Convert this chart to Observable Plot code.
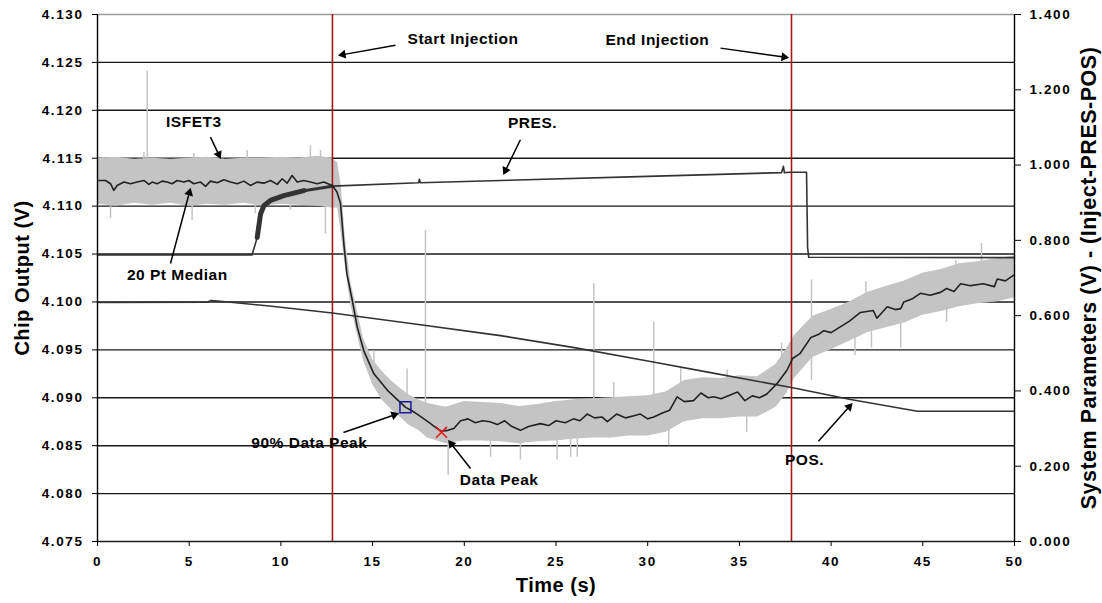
<!DOCTYPE html>
<html><head><meta charset="utf-8">
<script src="https://cdn.jsdelivr.net/npm/d3@7"></script>
<script src="https://cdn.jsdelivr.net/npm/@observablehq/plot@0.6"></script>
<style>html,body{margin:0;padding:0;background:#fff;}</style>
</head><body><div id="chart"></div>
<script>
// ---- axes / ticks ----
const xTicks = [0,5,10,15,20,25,30,35,40,45,50];
const leftTicks = [4.075,4.080,4.085,4.090,4.095,4.100,4.105,4.110,4.115,4.120,4.125,4.130];
const rightTicks = [0,0.2,0.4,0.6,0.8,1.0,1.2,1.4];
const injectT = [12.81, 37.84];

// ---- ISFET3 20 Pt Median (V, left axis) ----
const medianT = [0.07,0.44,0.71,0.89,1.07,1.44,1.80,2.16,2.53,2.80,2.98,3.25,3.53,3.80,4.07,4.34,4.71,4.98,5.25,5.62,5.89,6.16,6.53,6.89,7.25,7.62,7.98,8.34,8.71,9.07,9.43,9.80,10.07,10.34,10.61,10.89,11.25,11.61,11.98,12.34,12.80,
 13.05,13.25,13.43,13.60,13.89,14.16,14.52,15.07,15.80,16.52,16.80,17.10,17.43,17.80,18.16,18.50,18.76,19.10,19.43,19.80,20.2,20.6,21.0,21.4,21.8,22.2,22.6,23.06,23.5,24.15,24.6,25.0,25.5,25.95,26.3,26.7,27.1,27.5,27.8,28.3,28.8,29.2,29.6,30.0,30.33,30.8,31.2,31.6,32.0,32.5,32.9,33.3,33.6,34.0,34.5,34.9,35.3,35.7,36.1,36.5,37.06,37.6,37.9,38.3,38.9,39.3,39.6,40.0,40.5,41.0,41.6,42.3,42.5,43.06,43.5,43.8,43.96,44.4,44.87,45.4,45.96,46.3,46.7,47.06,47.6,48.3,48.9,49.06,49.5,49.96];
const medianV = [4.11268,4.11268,4.11234,4.11164,4.11216,4.11251,4.11234,4.11251,4.11268,4.11227,4.11251,4.11234,4.11261,4.11251,4.11234,4.11268,4.11251,4.11268,4.11234,4.11251,4.11206,4.11261,4.11244,4.11275,4.11251,4.11234,4.11261,4.11216,4.11251,4.1124,4.11268,4.11227,4.11286,4.1124,4.1132,4.11251,4.11268,4.11251,4.11234,4.11251,4.11216,
 4.1115,4.1103,4.1061,4.1029,4.1002,4.0974,4.0949,4.0925,4.0908,4.0895,4.0890,4.0887,4.0883,4.0878,4.0873,4.0868,4.0865,4.0866,4.0868,4.0876,4.0878,4.0874,4.0876,4.0875,4.0872,4.0876,4.0870,4.0866,4.0870,4.0873,4.0871,4.0876,4.0874,4.0878,4.0876,4.0883,4.0879,4.0880,4.0875,4.0883,4.0879,4.0881,4.0883,4.0878,4.0880,4.0884,4.0887,4.0901,4.0896,4.0897,4.0905,4.0900,4.0901,4.0899,4.0903,4.0906,4.0897,4.0902,4.0900,4.0904,4.0915,4.0929,4.0941,4.0946,4.0963,4.0966,4.0970,4.0968,4.0974,4.0980,4.0989,4.0991,4.0983,4.0995,4.0992,4.0993,4.1000,4.1003,4.1009,4.1007,4.1010,4.1014,4.1011,4.1019,4.1017,4.1019,4.1016,4.1024,4.1022,4.1028];

// ---- ISFET3 raw signal: dense band (low / high envelope, V) ----
const rawT  = [0,1,2,3,4,5,6,7,8,9,10,11,12,12.8,13.1,13.3,13.5,13.8,14.0,14.5,15.0,15.5,16.0,16.5,17.0,17.5,18.0,19.0,20.0,21.0,22.0,23.0,24.0,25.0,26.0,27.0,28.0,29.0,30.0,31.0,32.0,33.0,34.0,35.0,36.0,37.0,37.6,38.0,39.0,40.0,41.0,42.0,43.0,44.0,45.0,46.0,47.0,48.0,49.0,50.0];
const rawLo = [4.1102,4.1100,4.1103,4.1101,4.1103,4.1100,4.1102,4.1101,4.1103,4.1100,4.1102,4.1101,4.1100,4.1098,4.1098,4.1070,4.1040,4.0998,4.0980,4.0939,4.0914,4.0898,4.0888,4.0880,4.0871,4.0866,4.0858,4.0852,4.0855,4.0855,4.0854,4.0852,4.0854,4.0855,4.0857,4.0858,4.0858,4.0860,4.0860,4.0864,4.0875,4.0878,4.0878,4.0880,4.0880,4.0890,4.0905,4.0920,4.0942,4.0950,4.0959,4.0968,4.0973,4.0978,4.0986,4.0990,4.0995,4.0998,4.1000,4.1004];
const rawHi = [4.1150,4.1151,4.1149,4.1150,4.1149,4.1150,4.1151,4.1149,4.1150,4.1150,4.1151,4.1150,4.1152,4.1150,4.1145,4.1120,4.1070,4.1022,4.1005,4.0962,4.0940,4.0928,4.0918,4.0910,4.0903,4.0898,4.0894,4.0890,4.0896,4.0895,4.0894,4.0891,4.0893,4.0896,4.0898,4.0899,4.0900,4.0901,4.0902,4.0906,4.0918,4.0921,4.0920,4.0923,4.0922,4.0935,4.0952,4.0965,4.0985,4.0992,4.1000,4.1010,4.1016,4.1022,4.1030,4.1034,4.1040,4.1042,4.1045,4.1048];
// isolated spikes of the raw signal (time, from, to)
const spikeT    = [0.71,2.53,2.71,5.16,5.25,8.16,8.61,10.52,11.61,12.16,12.43,15.07,16.88,17.88,19.12,21.43,23.06,25.06,25.8,26.16,27.06,28.15,30.33,31.15,31.8,34.33,35.4,37.3,38.93,41.3,41.9,42.2,43.8,46.3,46.8,48.2];
const spikeFrom = [4.1100,4.1148,4.1140,4.1102,4.1148,4.1148,4.1102,4.1102,4.1148,4.1148,4.1102,4.0930,4.0900,4.0880,4.0860,4.0860,4.0860,4.0860,4.0860,4.0860,4.0870,4.0890,4.0880,4.0870,4.0900,4.0910,4.0890,4.0920,4.0918,4.0965,4.0990,4.0975,4.0985,4.0995,4.1030,4.1035];
const spikeTo   = [4.1087,4.1156,4.1241,4.1085,4.1155,4.1158,4.1092,4.1096,4.1163,4.1158,4.1071,4.0949,4.0930,4.10746,4.0819,4.0838,4.0835,4.0835,4.0838,4.0838,4.1019,4.0916,4.0979,4.0850,4.0932,4.0929,4.0864,4.0957,4.1023,4.0944,4.1021,4.0952,4.0952,4.0979,4.1043,4.1061];

// ---- PRES. (V, right axis) ----
const presT = [0,8.43,8.71,8.89,9.07,9.43,10.16,11.25,12.8,17.5,17.55,17.6,21.97,30.0,37.3,37.4,37.45,37.8,38.66,38.72,38.78,50];
const presV = [0.7615,0.7615,0.808,0.870,0.892,0.906,0.919,0.932,0.944,0.953,0.962,0.953,0.959,0.970,0.980,0.997,0.980,0.981,0.981,0.780,0.755,0.754];
// ---- POS. (V, right axis) ----
const posT = [0,6.0,6.2,7.0,9.5,12.8,17.0,21.97,26.0,30.15,33.5,37.84,41.06,44.71,50];
const posV = [0.635,0.636,0.640,0.637,0.625,0.607,0.580,0.547,0.515,0.478,0.448,0.409,0.377,0.346,0.346];

// ---- markers ----
const peak90T = [16.79], peak90V = [4.0890];
const peakT = [18.76],  peakV = [4.0864];

// ---- annotations ----
const annotText = ["Start Injection","End Injection","PRES.","ISFET3","20 Pt Median","90% Data Peak","Data Peak","POS."];
const annotT = [19.93,30.53,23.72,5.25,4.35,11.55,21.9,38.55];
const annotV = [4.12747,4.12737,4.11871,4.11877,4.10284,4.08526,4.08137,4.08353];
const arrowT1 = [16.25,33.97,23.06,6.16,3.98,13.41,20.34,39.31];
const arrowV1 = [4.12678,4.12649,4.11693,4.11720,4.10402,4.08638,4.08262,4.08547];
const arrowT2 = [13.14,37.68,22.14,6.71,5.07,16.41,19.14,41.15];
const arrowV2 = [4.12573,4.12549,4.11331,4.11498,4.11185,4.08836,4.08554,4.08941];

// ---- build ----
const W = 1102, H = 603, ML = 97, MR = 88, MT = 14, MB = 62;
const L0 = 4.075, L1 = 4.130, R1 = 1.4;
const toLeft = r => L0 + r / R1 * (L1 - L0);
const fromLeft = v => (v - L0) / (L1 - L0) * R1;
const kx = (W - ML - MR) / 50, ky = (H - MT - MB) / (L1 - L0); // px per unit, for arrowhead direction

const medianData = medianT.map((t,i)=>({t, v: medianV[i]}));
const rawData = rawT.map((t,i)=>({t, lo: rawLo[i], hi: rawHi[i]}));
const spikeData = spikeT.map((t,i)=>({t, a: spikeFrom[i], b: spikeTo[i]}));
const presData = presT.map((t,i)=>({t, v: toLeft(presV[i])}));
const presThick = presData.filter(d => d.t >= 8.6 && d.t <= 12.0);
const presMid = presData.filter(d => d.t >= 11.2 && d.t <= 12.8);
const posData = posT.map((t,i)=>({t, v: toLeft(posV[i])}));
const annotData = annotText.map((s,i)=>({s, t: annotT[i], v: annotV[i]}));
const arrowData = arrowT1.map((t,i)=>{
  const x1 = t, y1 = arrowV1[i], x2 = arrowT2[i], y2 = arrowV2[i];
  const dxp = (x2 - x1) * kx, dyp = -(y2 - y1) * ky;
  const len = Math.hypot(dxp, dyp);
  const back = 4.5; // centroid of head behind tip (px)
  return {x1, y1, x2, y2,
    hx: x2 - dxp / len * back / kx,
    hy: y2 + dyp / len * back / ky,
    ang: Math.atan2(dxp, -dyp) * 180 / Math.PI};
});

const FONT = "'Liberation Sans', Arial, Helvetica, sans-serif";
const chart = Plot.plot({
  width: W, height: H,
  marginLeft: ML, marginRight: MR, marginTop: MT, marginBottom: MB,
  style: {fontFamily: FONT, background: "#fff", color: "#000"},
  x: {domain: [0, 50]},
  y: {domain: [L0, L1]},
  marks: [
    Plot.ruleY(leftTicks.filter(v => v < L1 - 1e-9), {stroke: "#1a1a1a", strokeWidth: 1.4}),
    Plot.ruleY([L1], {stroke: "#9a9a9a", strokeWidth: 1.4}),
    Plot.areaY(rawData, {x: "t", y1: "lo", y2: "hi", fill: "#c4c4c4"}),
    Plot.ruleX(spikeData, {x: "t", y1: "a", y2: "b", stroke: "#c4c4c4", strokeWidth: 1.5}),
    Plot.ruleX(injectT, {stroke: "#a31a1a", strokeWidth: 1.6}),
    Plot.line(posData, {x: "t", y: "v", stroke: "#333", strokeWidth: 1.6}),
    Plot.line(presData, {x: "t", y: "v", stroke: "#333", strokeWidth: 1.6}),
    Plot.line(presThick, {x: "t", y: "v", stroke: "#333", strokeWidth: 5}),
    Plot.line(presMid, {x: "t", y: "v", stroke: "#333", strokeWidth: 3}),
    Plot.line(medianData, {x: "t", y: "v", stroke: "#222", strokeWidth: 1.6}),
    Plot.dot(peak90T.map((t,i)=>({t, v: peak90V[i]})), {x: "t", y: "v", symbol: "square", r: 6.2, stroke: "#1a1a9c", strokeWidth: 1.5}),
    Plot.dot(peakT.map((t,i)=>({t, v: peakV[i]})), {x: "t", y: "v", symbol: "times", r: 5, stroke: "#e8161b", strokeWidth: 1.6}),
    Plot.ruleX([0], {stroke: "#000", strokeWidth: 1.4}),
    Plot.ruleX([50], {stroke: "#000", strokeWidth: 1.4}),
    Plot.link(arrowData, {x1: "x1", y1: "y1", x2: "hx", y2: "hy", stroke: "#000", strokeWidth: 1.5}),
    Plot.dot(arrowData, {x: "hx", y: "hy", symbol: "triangle", r: 3.3, rotate: "ang", fill: "#000", stroke: "none"}),
    Plot.text(annotData, {x: "t", y: "v", text: "s", fontSize: 15.5, fontWeight: "bold", fill: "#000"}),
    Plot.axisX({ticks: xTicks, tickSize: 5, tickPadding: 10, fontSize: 13.5, fontWeight: "bold", label: null, tickFormat: d => String(d)}),
    Plot.axisY({ticks: leftTicks, anchor: "left", tickSize: 5, tickPadding: 9, fontSize: 13.5, fontWeight: "bold", label: null, tickFormat: d => d.toFixed(3)}),
    Plot.axisY(rightTicks.map(toLeft), {anchor: "right", tickSize: 6, tickPadding: 9, fontSize: 13.5, fontWeight: "bold", label: null, tickFormat: d => fromLeft(d).toFixed(3)}),
    Plot.text(["Time (s)"], {frameAnchor: "bottom", dy: 50, fontSize: 20, fontWeight: "bold"}),
    Plot.text(["Chip Output (V)"], {frameAnchor: "left", dx: -75, rotate: -90, textAnchor: "middle", fontSize: 20, fontWeight: "bold"}),
    Plot.text(["System Parameters (V) - (Inject-PRES-POS)"], {frameAnchor: "right", dx: 75, rotate: -90, textAnchor: "middle", fontSize: 21.5, fontWeight: "bold"})
  ]
});
// widen tick and annotation lettering slightly, as in the original
d3.select(chart).selectAll("g[aria-label$='tick label'] text").style("letter-spacing", "1.6px");
d3.select(chart).selectAll("g[aria-label='text'] text").style("letter-spacing", "0.5px");
document.getElementById("chart").appendChild(chart);
</script></body></html>
